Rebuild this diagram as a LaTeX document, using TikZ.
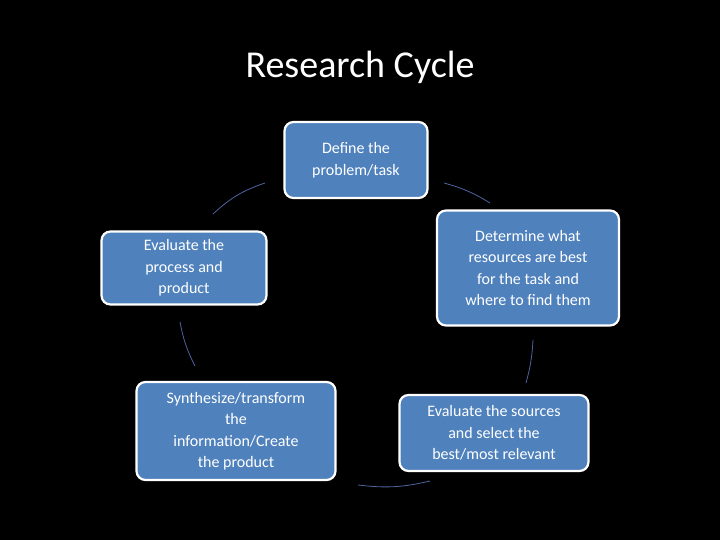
\documentclass[tikz,border=0pt]{standalone}
\usepackage{fontspec}
\setmainfont{Carlito}
\begin{document}
\begin{tikzpicture}[x=1pt,y=-1pt,
 box/.style={draw=white,line width=2.2pt,fill={rgb,255:red,79;green,129;blue,189},rounded corners=9pt,text=white,align=center,font=\fontsize{16}{21.5}\selectfont,inner sep=0pt},
 arc/.style={draw={rgb,255:red,79;green,100;blue,160},line width=0.8pt}]
\fill[black] (0,0) rectangle (720,540);
\node[text=white,font=\fontsize{38}{44}\selectfont] (t) at (360,67) {Research Cycle};
\node[box,minimum width=143pt,minimum height=76pt] (a) at (356,160) {Define the\\problem/task};
\node[box,minimum width=182pt,minimum height=115pt] (b) at (528,268) {Determine what\\resources  are best\\for the task and\\where to find them};
\node[box,minimum width=189pt,minimum height=76pt] (c) at (494,433) {Evaluate the sources\\and select the\\best/most relevant};
\node[box,minimum width=199pt,minimum height=98pt] (d) at (236,431) {Synthesize/transform\\the\\information/Create\\the product};
\node[box,minimum width=165pt,minimum height=73pt] (e) at (184,268) {Evaluate the\\process and\\product};
\coordinate (p1) at (213,214); \coordinate (p2) at (265,183);
\coordinate (q1) at (444,183); \coordinate (q2) at (490,203);
\coordinate (r1) at (533,340); \coordinate (r2) at (526,383);
\coordinate (s1) at (430,481); \coordinate (s2) at (358,485);
\coordinate (u1) at (180,322); \coordinate (u2) at (195,366);
\draw[arc] (p1) to[bend left=12] (p2);
\draw[arc] (q1) to[bend left=8] (q2);
\draw[arc] (r1) to[bend left=6] (r2);
\draw[arc] (s1) to[bend left=10] (s2);
\draw[arc] (u1) to[bend right=8] (u2);
\end{tikzpicture}
\end{document}
